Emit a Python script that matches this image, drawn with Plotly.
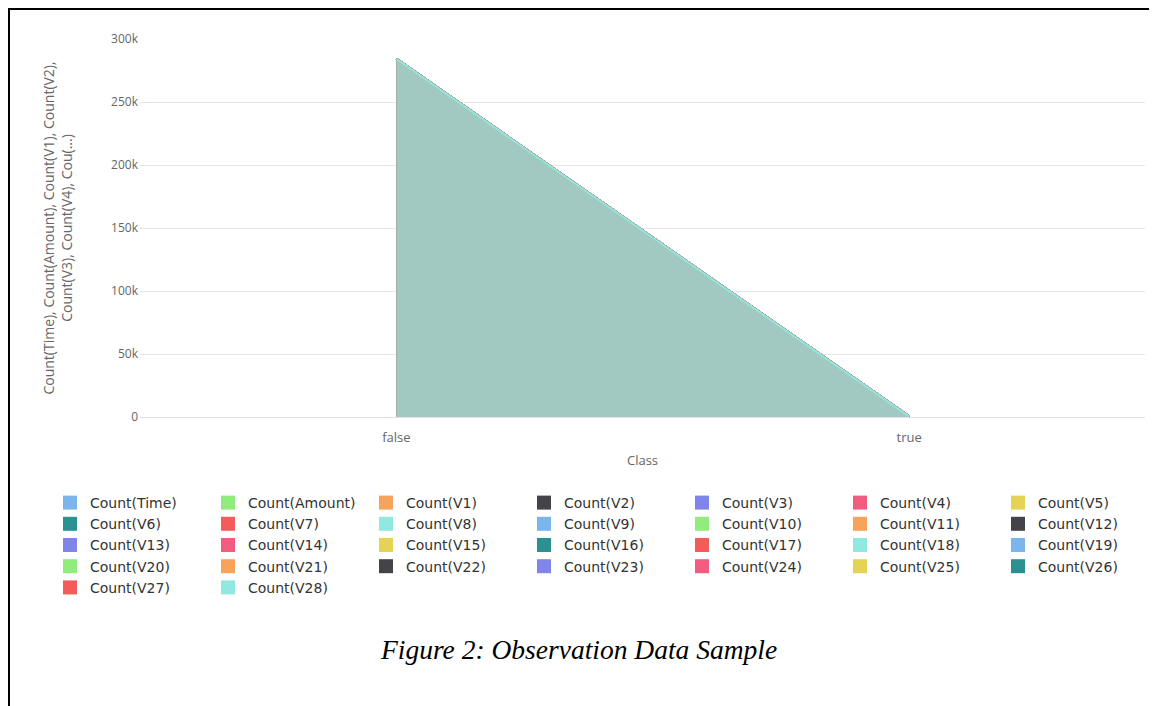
import plotly.graph_objects as go

categories = ["false", "true"]
series_names = ["Count(Time)", "Count(Amount)"] + [f"Count(V{i})" for i in range(1, 29)]
counts_false = [284315] * 30
counts_true = [492] * 30
palette = ["#7cb5ec", "#90ed7d", "#f7a35c", "#434348", "#8085e9",
           "#f15c80", "#e4d354", "#2b908f", "#f45b5b", "#91e8e1"]
y_ticks = [0, 50000, 100000, 150000, 200000, 250000, 300000]
y_ticktext = ["0", "50k", "100k", "150k", "200k", "250k", "300k"]

# page has an 8px body margin; figure coordinates = screen - 8
W, H = 1149, 698
ML, MR, MT, MB = 132, 12, 31, 289
PW = W - ML - MR
PH = H - MT - MB


def rgba(hexc, a):
    hexc = hexc.lstrip("#")
    r, g, b = int(hexc[0:2], 16), int(hexc[2:4], 16), int(hexc[4:6], 16)
    return f"rgba({r},{g},{b},{a})"


fig = go.Figure()
for i, name in enumerate(series_names):
    c = palette[i % len(palette)]
    fig.add_trace(go.Scatter(
        x=categories, y=[counts_false[i], counts_true[i]],
        mode="lines", fill="tozeroy", fillcolor=rgba(c, 0.75),
        line=dict(color=c, width=2), name=name, showlegend=False,
        hoverinfo="skip"))

for i, name in enumerate(series_names):
    c = palette[i % len(palette)]
    fig.add_trace(go.Scatter(x=[None], y=[None], mode="markers",
                             marker=dict(symbol="square", size=14, color=c),
                             name=name, showlegend=True))


def px_x(p):
    return (p - ML) / PW


def px_y(p):
    return (H - MB - p) / PH


shapes = [
    dict(type="line", xref="paper", yref="paper", x0=px_x(0), x1=px_x(1160),
         y0=px_y(1), y1=px_y(1), line=dict(color="black", width=2)),
    dict(type="line", xref="paper", yref="paper", x0=px_x(1), x1=px_x(1),
         y0=px_y(0), y1=px_y(700), line=dict(color="black", width=2)),
]

fig.update_layout(
    width=W, height=H,
    margin=dict(l=ML, r=MR, t=MT, b=MB),
    paper_bgcolor="white", plot_bgcolor="white",
    font=dict(family="Open Sans, DejaVu Sans, sans-serif", color="#666666", size=12),
    showlegend=True,
    shapes=shapes,
    xaxis=dict(type="category", range=[-0.5, 1.46], showgrid=False,
               showline=True, linecolor="#e0e0e8", linewidth=1,
               ticks="", ticklabelstandoff=8,
               tickfont=dict(size=13, color="#666666"),
               title=dict(text="Class", font=dict(size=13, color="#666666"), standoff=11),
               zeroline=False),
    yaxis=dict(range=[0, 300000], tickvals=y_ticks, ticktext=y_ticktext,
               showgrid=True, gridcolor="#e6e6e6", gridwidth=1,
               zeroline=False, showline=False, ticks="",
               ticklabelstandoff=1,
               tickfont=dict(size=12, color="#666666"),
               title=dict(text="Count(Time), Count(Amount), Count(V1), Count(V2),<br>Count(V3), Count(V4), Cou(...)",
                          font=dict(size=14, color="#666666"), standoff=35)),
    legend=dict(orientation="h", x=px_x(42), xanchor="left",
                y=px_y(479), yanchor="top",
                entrywidth=113, entrywidthmode="pixels",
                itemsizing="trace",
                font=dict(family="DejaVu Sans, Verdana, sans-serif", size=14, color="#333333"),
                tracegroupgap=0, itemclick=False, bgcolor="rgba(0,0,0,0)"),
    annotations=[dict(text="<i>Figure 2: Observation Data Sample</i>",
                      xref="paper", yref="paper", x=px_x(570), y=px_y(641),
                      xanchor="center", yanchor="middle", showarrow=False,
                      font=dict(family="Liberation Serif, Times New Roman, serif",
                                size=27.5, color="black"))],
)

fig.write_html("out.html")
